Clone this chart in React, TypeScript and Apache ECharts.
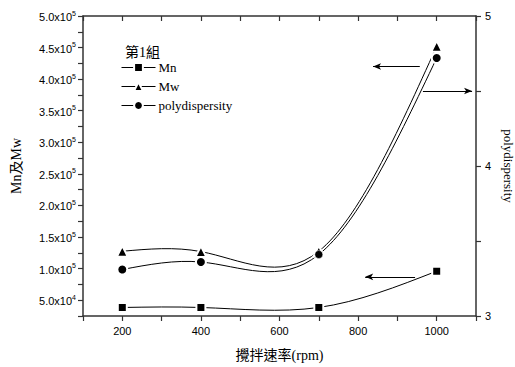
import React, { useEffect, useRef } from "react";
import * as echarts from "echarts";

const speeds = [200, 400, 700, 1000];
const mnValues = [38500, 38500, 38500, 96000];
const mwValues = [127500, 127000, 127500, 452000];
const pdiValues = [3.31, 3.36, 3.41, 4.72];

const xTickLabels = [200, 400, 600, 800, 1000];
const legendTitle = "第1組";
const seriesNames = ["Mn", "Mw", "polydispersity"];

// arrow annotations in data coordinates: [fromX, toX, y]
const mwArrow = [957, 838, 420000];
const pdiArrow = [965, 1090, 4.5];
const mnArrow = [945, 818, 87000];

const serif = "'Liberation Serif', 'Times New Roman', 'Noto Sans CJK TC', serif";
const sans = "'Liberation Sans', Arial, sans-serif";

function supLabel(v: number) {
  if (Math.round(v) % 50000 !== 0) return "";
  const exp = Math.floor(Math.log10(v) + 1e-9);
  const mant = (v / Math.pow(10, exp)).toFixed(1);
  return `{m|${mant}x10}{e|${exp}}`;
}

// natural cubic spline through the data, expressed as cubic Bezier segments (data space)
function splineSegments(xs: number[], ys: number[]) {
  const n = xs.length;
  const h: number[] = [];
  const s: number[] = [];
  for (let i = 0; i < n - 1; i++) {
    h.push(xs[i + 1] - xs[i]);
    s.push((ys[i + 1] - ys[i]) / h[i]);
  }
  const M = new Array(n).fill(0);
  if (n > 2) {
    const m = n - 2;
    const a: number[] = [], b: number[] = [], c: number[] = [], d: number[] = [];
    for (let k = 0; k < m; k++) {
      const i = k + 1;
      a.push(h[i - 1]);
      b.push(2 * (h[i - 1] + h[i]));
      c.push(h[i]);
      d.push(6 * (s[i] - s[i - 1]));
    }
    for (let k = 1; k < m; k++) {
      const w = a[k] / b[k - 1];
      b[k] -= w * c[k - 1];
      d[k] -= w * d[k - 1];
    }
    const sol = new Array(m).fill(0);
    sol[m - 1] = d[m - 1] / b[m - 1];
    for (let k = m - 2; k >= 0; k--) sol[k] = (d[k] - c[k] * sol[k + 1]) / b[k];
    for (let k = 0; k < m; k++) M[k + 1] = sol[k];
  }
  const segs: number[][][] = [];
  for (let i = 0; i < n - 1; i++) {
    const dl = s[i] - (h[i] * (2 * M[i] + M[i + 1])) / 6;
    const dr = s[i] + (h[i] * (M[i] + 2 * M[i + 1])) / 6;
    segs.push([
      [xs[i], ys[i]],
      [xs[i] + h[i] / 3, ys[i] + (dl * h[i]) / 3],
      [xs[i + 1] - h[i] / 3, ys[i + 1] - (dr * h[i]) / 3],
      [xs[i + 1], ys[i + 1]],
    ]);
  }
  return segs;
}

function curveSeries(values: number[], yAxisIndex: number) {
  const segs = splineSegments(speeds, values);
  return {
    type: "custom",
    yAxisIndex,
    silent: true,
    z: 1,
    data: speeds.map((x, i) => [x, values[i]]),
    encode: { x: 0, y: 1 },
    renderItem: (params: any, api: any) => {
      if (params.dataIndex !== 0) return null;
      let d = "";
      segs.forEach((seg, k) => {
        const p = seg.map((q) => api.coord(q));
        if (k === 0) d += `M${p[0][0]},${p[0][1]}`;
        d += ` C${p[1][0]},${p[1][1]} ${p[2][0]},${p[2][1]} ${p[3][0]},${p[3][1]}`;
      });
      return {
        type: "path",
        shape: { pathData: d },
        style: { fill: "none", stroke: "#000", lineWidth: 1 },
      };
    },
  };
}

function arrowLine(a: number[]) {
  return {
    silent: true,
    symbol: ["none", "arrow"],
    symbolSize: [5, 8],
    label: { show: false },
    lineStyle: { color: "#000", width: 1, type: "solid", opacity: 1 },
    emphasis: { disabled: true },
    data: [[{ coord: [a[0], a[2]] }, { coord: [a[1], a[2]] }]],
  };
}

export default function App() {
  const ref = useRef<HTMLDivElement>(null);
  useEffect(() => {
    document.body.style.margin = "0";
    const chart = echarts.init(ref.current!, null, { renderer: "svg" });
    const axisLine = { show: true, lineStyle: { color: "#333", width: 1.5 } };
    const markerSeries = {
      type: "line",
      z: 3,
      lineStyle: { color: "#000", width: 1, opacity: 0 },
      itemStyle: { color: "#000", borderColor: "#fff", borderWidth: 2 },
      emphasis: { disabled: true },
    };
    chart.setOption({
      animation: false,
      backgroundColor: "#fff",
      title: {
        text: legendTitle,
        left: 120,
        top: 40,
        textStyle: { fontFamily: serif, fontSize: 14, fontWeight: "normal", color: "#000" },
      },
      legend: {
        orient: "vertical",
        left: 116,
        top: 56,
        itemWidth: 34,
        itemHeight: 11,
        itemGap: 6,
        lineStyle: { color: "#000", width: 1, opacity: 1 },
        textStyle: { fontFamily: serif, fontSize: 13, color: "#000", padding: [0, 0, 0, -2] },
        data: seriesNames,
      },
      grid: { left: 83, right: 39, top: 16, bottom: 51, outerBoundsMode: "none", containLabel: false },
      xAxis: [
        {
          type: "value",
          min: 100,
          max: 1100,
          interval: 100,
          name: "攪拌速率(rpm)",
          nameLocation: "middle",
          nameGap: 32,
          nameTextStyle: { fontFamily: serif, fontSize: 14, color: "#000" },
          axisLine,
          axisTick: { show: true, length: 5, lineStyle: { color: "#333", width: 1.2 } },
          axisLabel: {
            margin: 9,
            fontFamily: sans,
            fontSize: 11,
            color: "#000",
            formatter: (v: number) => (xTickLabels.includes(v) ? String(v) : ""),
          },
          splitLine: { show: false },
        },
        {
          type: "value",
          position: "top",
          min: 100,
          max: 1100,
          interval: 100,
          axisLine,
          axisTick: { show: true, inside: true, length: 5, lineStyle: { color: "#333", width: 1.2 } },
          axisLabel: { show: false },
          splitLine: { show: false },
        },
      ],
      yAxis: [
        {
          type: "value",
          min: 25000,
          max: 500000,
          interval: 25000,
          name: "Mn及Mw",
          nameLocation: "middle",
          nameRotate: 90,
          nameGap: 60,
          nameTextStyle: { fontFamily: serif, fontSize: 14, color: "#000" },
          axisLine,
          axisTick: { show: true, length: 5, lineStyle: { color: "#333", width: 1.2 } },
          axisLabel: {
            margin: 7,
            color: "#000",
            formatter: supLabel,
            rich: {
              m: { fontFamily: sans, fontSize: 11, color: "#000", verticalAlign: "bottom" },
              e: { fontFamily: sans, fontSize: 7, color: "#000", verticalAlign: "bottom", padding: [0, 0, 6, 0] },
            },
          },
          splitLine: { show: false },
        },
        {
          type: "value",
          position: "right",
          min: 3,
          max: 5,
          interval: 0.5,
          name: "polydispersity",
          nameLocation: "middle",
          nameRotate: -90,
          nameGap: 14,
          nameTextStyle: { fontFamily: serif, fontSize: 13, color: "#000" },
          axisLine,
          axisTick: { show: true, length: 5, lineStyle: { color: "#333", width: 1.2 } },
          axisLabel: {
            margin: 9,
            fontFamily: sans,
            fontSize: 11,
            color: "#000",
            formatter: (v: number) => (Number.isInteger(v) ? String(v) : ""),
          },
          splitLine: { show: false },
        },
      ],
      series: [
        curveSeries(mnValues, 0),
        curveSeries(mwValues, 0),
        curveSeries(pdiValues, 1),
        {
          ...markerSeries,
          name: seriesNames[0],
          yAxisIndex: 0,
          symbol: "rect",
          symbolSize: 9,
          data: speeds.map((x, i) => [x, mnValues[i]]),
          markLine: arrowLine(mnArrow),
        },
        {
          ...markerSeries,
          name: seriesNames[1],
          yAxisIndex: 0,
          symbol: "triangle",
          symbolSize: 11,
          data: speeds.map((x, i) => [x, mwValues[i]]),
          markLine: arrowLine(mwArrow),
        },
        {
          ...markerSeries,
          z: 4,
          name: seriesNames[2],
          yAxisIndex: 1,
          symbol: "circle",
          symbolSize: 10,
          data: speeds.map((x, i) =>
            i === 2
              ? { value: [x, pdiValues[i]], itemStyle: { borderWidth: 0.5 }, symbolSize: 8 }
              : [x, pdiValues[i]]
          ),
          markLine: arrowLine(pdiArrow),
        },
      ],
    });
    return () => chart.dispose();
  }, []);
  return <div ref={ref} style={{ width: 515, height: 367 }} />;
}
